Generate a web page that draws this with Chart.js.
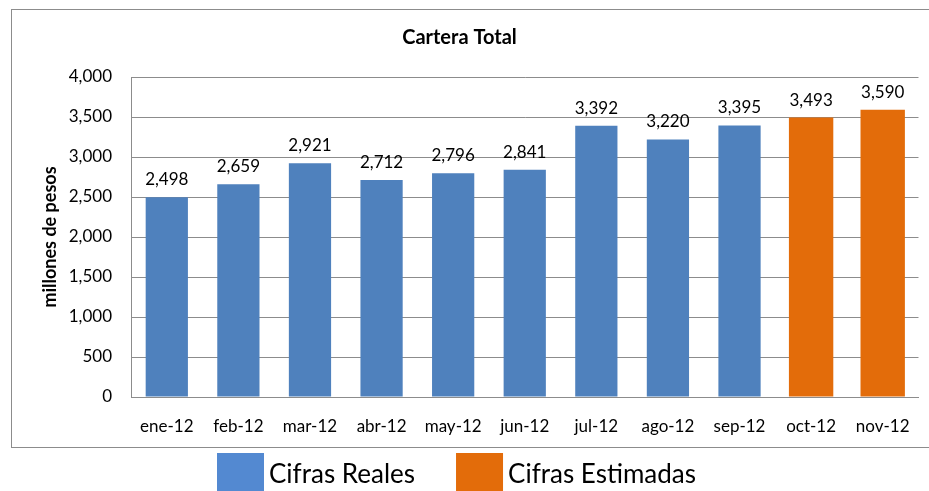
<!DOCTYPE html>
<html>
<head>
<meta charset="utf-8">
<script src="https://cdn.jsdelivr.net/npm/chart.js@4"></script>
<style>
    html, body { margin: 0; padding: 0; background: #ffffff; }
    #wrap { width: 929px; height: 491px; position: relative; }
</style>
</head>
<body>
<div id="wrap"><canvas id="carteraChart"></canvas></div>
<script>
// Datos de la gráfica
const meses = ['ene-12', 'feb-12', 'mar-12', 'abr-12', 'may-12', 'jun-12', 'jul-12', 'ago-12', 'sep-12', 'oct-12', 'nov-12'];
const cifrasReales = [2498, 2659, 2921, 2712, 2796, 2841, 3392, 3220, 3395, null, null];
const cifrasEstimadas = [null, null, null, null, null, null, null, null, null, 3493, 3590];
const ticksY = [0, 500, 1000, 1500, 2000, 2500, 3000, 3500, 4000];

const FONT = 'Lato, "Noto Sans", sans-serif';
const fmt = v => v.toLocaleString('en-US');

// Marco exterior del gráfico
const marcoPlugin = {
    id: 'marco',
    beforeDraw(chart) {
        const ctx = chart.ctx;
        ctx.save();
        ctx.strokeStyle = '#8c8c8c';
        ctx.lineWidth = 1;
        ctx.strokeRect(11.5, 9.5, 930, 438);
        ctx.restore();
    }
};

// Etiquetas de valor encima de cada barra
const etiquetasPlugin = {
    id: 'etiquetas',
    afterDatasetsDraw(chart) {
        const ctx = chart.ctx;
        ctx.save();
        ctx.font = '17px ' + FONT;
        ctx.fillStyle = '#000000';
        ctx.textAlign = 'center';
        ctx.textBaseline = 'alphabetic';
        chart.data.datasets.forEach((ds, i) => {
            chart.getDatasetMeta(i).data.forEach((bar, j) => {
                const v = ds.data[j];
                if (v === null || v === undefined) return;
                ctx.fillText(fmt(v), bar.x, bar.y - 12);
            });
        });
        ctx.restore();
    }
};

// Leyenda debajo del marco
const leyendaPlugin = {
    id: 'leyenda',
    afterDraw(chart) {
        const ctx = chart.ctx;
        const colores = ['#5389d1', '#e36c0a'];
        ctx.save();
        ctx.font = '26px ' + FONT;
        ctx.textBaseline = 'alphabetic';
        let x = 217;
        chart.data.datasets.forEach((ds, i) => {
            ctx.fillStyle = colores[i];
            ctx.fillRect(x, 453, 47, 38);
            ctx.fillStyle = '#000000';
            ctx.fillText(ds.label, x + 52, 483);
            x += 52 + ctx.measureText(ds.label).width + 41;
        });
        ctx.restore();
    }
};

new Chart(document.getElementById('carteraChart'), {
    type: 'bar',
    data: {
        labels: meses,
        datasets: [
            {
                label: 'Cifras Reales',
                data: cifrasReales,
                backgroundColor: '#4f81bd',
                skipNull: true,
                categoryPercentage: 1,
                barPercentage: 0.59
            },
            {
                label: 'Cifras Estimadas',
                data: cifrasEstimadas,
                backgroundColor: '#e36c0a',
                skipNull: true,
                categoryPercentage: 1,
                barPercentage: 0.62
            }
        ]
    },
    options: {
        responsive: true,
        maintainAspectRatio: false,
        animation: false,
        layout: { padding: { left: 0, right: 10, top: 0, bottom: 0 } },
        plugins: {
            legend: { display: false },
            tooltip: { enabled: false },
            title: {
                display: true,
                text: 'Cartera Total',
                color: '#000000',
                font: { family: FONT, size: 20, weight: 'bold' },
                padding: { top: 26, bottom: 27 }
            }
        },
        scales: {
            x: {
                grid: { display: false, drawTicks: false },
                border: { display: true, color: '#8c8c8c' },
                ticks: {
                    color: '#000000',
                    font: { family: FONT, size: 17 },
                    padding: 19,
                    maxRotation: 0,
                    autoSkip: false
                },
                afterFit: s => { s.height = 94; }
            },
            y: {
                min: 0,
                max: 4000,
                afterBuildTicks: s => { s.ticks = ticksY.map(v => ({ value: v })); },
                grid: { color: '#8c8c8c', drawTicks: false },
                border: { display: true, color: '#8c8c8c' },
                ticks: {
                    color: '#000000',
                    font: { family: FONT, size: 17 },
                    padding: 19,
                    callback: v => fmt(v)
                },
                title: {
                    display: true,
                    text: 'millones de pesos',
                    color: '#000000',
                    font: { family: FONT, size: 18, weight: 'bold' },
                    padding: { top: 39, bottom: 0 }
                },
                afterFit: s => { s.width = 131; }
            }
        }
    },
    plugins: [marcoPlugin, etiquetasPlugin, leyendaPlugin]
});
</script>
</body>
</html>
